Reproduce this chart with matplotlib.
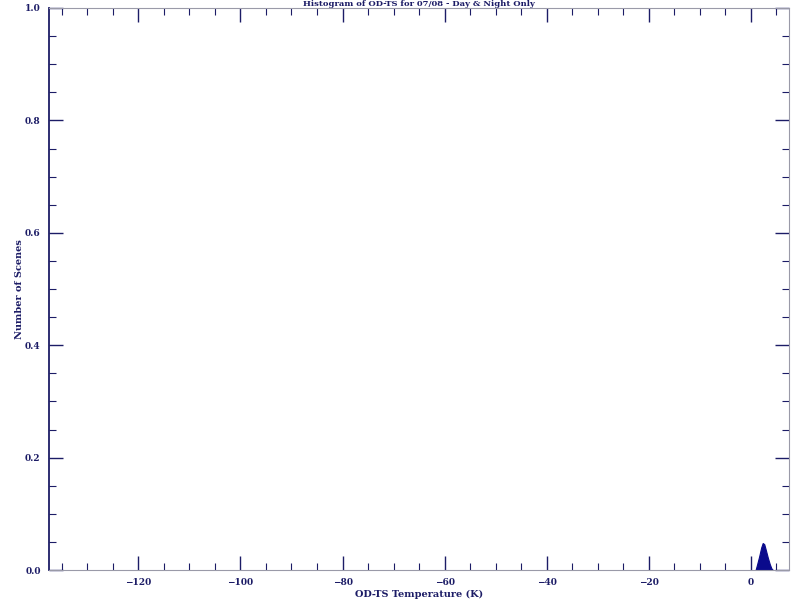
import numpy as np
import matplotlib.pyplot as plt
from matplotlib.ticker import MultipleLocator, FormatStrFormatter

# OD-TS temperature distribution (fraction of scenes), outline points
temp_k = [0.9, 1.2, 1.6, 2.0, 2.3, 2.6, 2.9, 3.3, 3.7, 4.0, 4.3]
scene_frac = [0.0, 0.010, 0.024, 0.040, 0.048, 0.046, 0.036, 0.022, 0.010, 0.003, 0.0]

x_range = (-137.5, 7.45)
y_range = (0.0, 1.0)

navy = '#1c1c66'
grey = '#9a9aa8'
label_font = dict(family='DejaVu Serif', weight='bold', color=navy)

fig = plt.figure(figsize=(7.91, 6.02), dpi=100)
ax = fig.add_axes([49/791, 1 - 570/602, (789 - 49)/791, (570 - 8)/602])

ax.fill_between(temp_k, 0, scene_frac, color='#0a0a8c', linewidth=0.8,
                edgecolor='#0a0a8c')

ax.set_xlim(*x_range)
ax.set_ylim(*y_range)

ax.xaxis.set_major_locator(MultipleLocator(20))
ax.xaxis.set_minor_locator(MultipleLocator(5))
ax.yaxis.set_major_locator(MultipleLocator(0.2))
ax.yaxis.set_minor_locator(MultipleLocator(0.05))
ax.yaxis.set_major_formatter(FormatStrFormatter('%.1f'))

ax.tick_params(which='both', direction='in', top=True, right=True,
               colors=navy, labelcolor=navy)
ax.tick_params(which='major', length=10, width=1.0, pad=6)
ax.tick_params(which='minor', length=5, width=0.8)
for lab in ax.get_xticklabels() + ax.get_yticklabels():
    lab.set_fontfamily('DejaVu Serif')
    lab.set_fontweight('bold')
    lab.set_fontsize(6.5)

for side in ['top', 'right', 'bottom']:
    ax.spines[side].set_color(grey)
    ax.spines[side].set_linewidth(0.8)
ax.spines['left'].set_color(navy)
ax.spines['left'].set_linewidth(1.3)

ax.set_xlabel('OD-TS Temperature (K)', fontsize=7, labelpad=2, **label_font)
ax.set_ylabel('Number of Scenes', fontsize=7, labelpad=1, **label_font)

fig.text(0.53, 0.9995, 'Histogram of OD-TS for 07/08 - Day & Night Only',
         ha='center', va='top', fontsize=6, **label_font)

fig.savefig('out.png', dpi=100)
